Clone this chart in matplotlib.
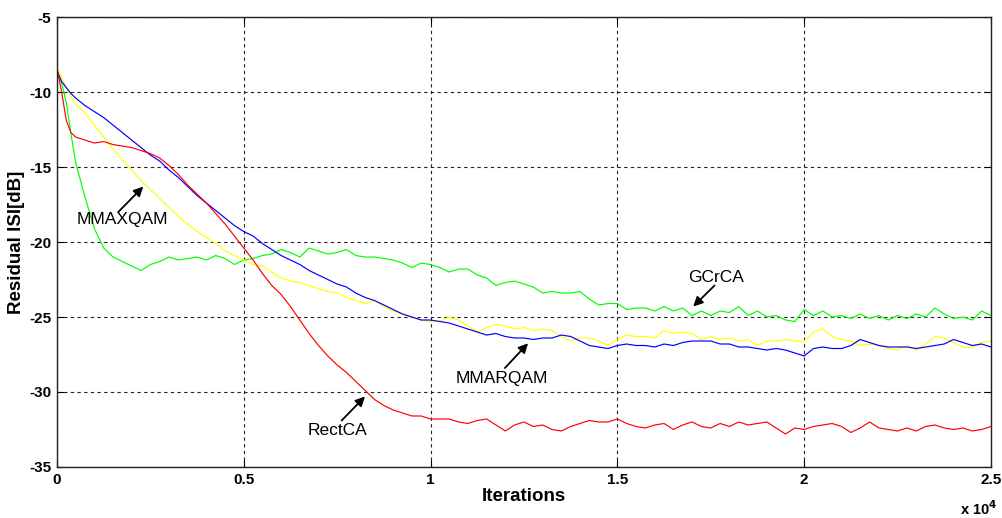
"""Residual ISI convergence of the four equalizers (MATLAB-style figure)."""

import numpy as np
import matplotlib
matplotlib.use("Agg")
import matplotlib.pyplot as plt

plt.rcParams["font.family"] = ["Liberation Sans", "DejaVu Sans"]
plt.rcParams["axes.unicode_minus"] = False

# iteration grid: 0, 125, 250, 375, then every 250 from 500 to 25000
ITER = [0, 125, 250, 375] + list(range(500, 25001, 250))

GCRCA = [
    -8.4, -9.4, -10.7, -12.8,
    -14.7, -17.0, -19.1, -20.4, -21.0, -21.3, -21.6, -21.9, -21.5, -21.3,
    -21.0, -21.2, -21.1, -21.0, -21.2, -20.9, -21.1, -21.5, -21.2, -21.1,
    -20.9, -20.8, -20.5, -20.7, -21.0, -20.4, -20.6, -20.8, -20.7, -20.5,
    -20.9, -21.0, -21.0, -21.1, -21.2, -21.4, -21.7, -21.4, -21.5, -21.7,
    -22.0, -21.8, -21.8, -22.2, -22.4, -22.9, -22.7, -22.6, -22.8, -23.0,
    -23.4, -23.3, -23.4, -23.4, -23.3, -23.8, -24.2, -24.1, -24.1, -24.5,
    -24.4, -24.4, -24.6, -24.3, -24.6, -24.4, -24.9, -24.6, -24.9, -24.6,
    -24.7, -24.3, -24.9, -24.6, -25.0, -24.9, -25.2, -25.3, -24.5, -24.9,
    -24.6, -25.0, -24.9, -25.1, -24.8, -25.1, -24.9, -25.2, -24.9, -25.1,
    -24.8, -25.0, -24.4, -24.8, -25.1, -25.0, -25.2, -24.6, -24.9,
]

MMAXQAM = [
    -8.4, -9.0, -9.7, -10.3,
    -10.8, -11.4, -12.2, -13.0, -13.8, -14.5, -15.2, -15.9, -16.5, -17.1,
    -17.7, -18.3, -18.8, -19.3, -19.7, -20.1, -20.6, -20.9, -21.2, -21.5,
    -21.6, -22.0, -22.4, -22.6, -22.7, -22.9, -23.1, -23.3, -23.4, -23.7,
    -23.9, -24.1, -23.9, -24.3, -24.6, -24.8, -25.0, -25.2, -25.3, -25.3,
    -25.0, -25.2, -25.6, -26.0, -25.7, -25.5, -25.6, -25.8, -25.7, -25.9,
    -25.8, -25.9, -26.3, -26.6, -26.4, -26.4, -26.6, -26.9, -26.5, -26.2,
    -26.3, -26.3, -26.4, -25.9, -26.1, -26.0, -26.1, -26.5, -26.3, -26.5,
    -26.4, -26.6, -26.5, -26.9, -26.6, -26.6, -26.5, -26.6, -26.6, -26.0,
    -25.8, -26.3, -26.5, -26.6, -26.9, -26.8, -26.9, -27.1, -27.2, -26.9,
    -27.2, -26.8, -26.3, -26.4, -26.7, -27.0, -27.0, -26.7, -26.6,
]

MMARQAM = [
    -8.6, -9.3, -9.7, -10.1,
    -10.4, -10.9, -11.3, -11.7, -12.2, -12.7, -13.2, -13.7, -14.2, -14.6,
    -15.2, -15.7, -16.3, -16.9, -17.4, -17.9, -18.4, -18.9, -19.3, -19.6,
    -20.1, -20.5, -20.9, -21.2, -21.5, -21.9, -22.2, -22.5, -22.8, -23.0,
    -23.4, -23.7, -23.9, -24.2, -24.5, -24.8, -25.0, -25.2, -25.2, -25.3,
    -25.4, -25.6, -25.8, -26.0, -26.2, -26.1, -26.3, -26.4, -26.4, -26.5,
    -26.4, -26.4, -26.2, -26.3, -26.6, -26.9, -27.0, -27.1, -26.9, -26.8,
    -26.9, -26.9, -27.0, -26.8, -26.9, -26.7, -26.6, -26.6, -26.6, -26.8,
    -26.8, -27.0, -27.0, -27.1, -27.2, -27.1, -27.2, -27.4, -27.6, -27.1,
    -27.0, -27.1, -27.1, -26.9, -26.5, -26.7, -26.9, -27.0, -27.0, -27.0,
    -27.1, -27.0, -26.9, -26.8, -26.5, -26.7, -26.9, -26.8, -27.0,
]

RECTCA = [
    -8.4, -10.0, -11.9, -12.7,
    -13.0, -13.2, -13.4, -13.3, -13.5, -13.6, -13.7, -13.9, -14.1, -14.4,
    -14.9, -15.5, -16.2, -16.8, -17.4, -18.1, -18.8, -19.6, -20.4, -21.2,
    -22.1, -22.9, -23.5, -24.3, -25.2, -26.1, -26.9, -27.6, -28.2, -28.7,
    -29.3, -29.9, -30.5, -30.9, -31.2, -31.4, -31.6, -31.6, -31.8, -31.8,
    -31.8, -32.0, -32.1, -31.9, -31.8, -32.2, -32.6, -32.2, -32.0, -32.3,
    -32.2, -32.5, -32.6, -32.3, -32.1, -31.9, -32.0, -32.0, -31.8, -32.1,
    -32.3, -32.4, -32.2, -32.1, -32.5, -32.2, -32.0, -32.3, -32.4, -32.1,
    -32.3, -32.0, -32.2, -32.1, -32.0, -32.4, -32.8, -32.4, -32.5, -32.3,
    -32.2, -32.1, -32.3, -32.7, -32.4, -32.0, -32.4, -32.5, -32.6, -32.4,
    -32.6, -32.3, -32.2, -32.4, -32.5, -32.4, -32.6, -32.5, -32.3,
]

XTICKS = [0, 5000, 10000, 15000, 20000, 25000]
XTICK_LABELS = ["0", "0.5", "1", "1.5", "2", "2.5"]
YTICKS = [-35, -30, -25, -20, -15, -10, -5]

# label text, text position, arrow tail, arrow tip
LABELS = [
    ("MMAXQAM", (1750, -18.5), (1640, -18.0), (2310, -16.3)),
    ("GCrCA", (17650, -22.35), (17600, -22.9), (17030, -24.3)),
    ("MMARQAM", (11900, -29.1), (11990, -28.4), (12610, -26.75)),
    ("RectCA", (7500, -32.6), (7620, -31.9), (8245, -30.3)),
]

fig = plt.figure(figsize=(10.03, 5.18), dpi=100)
ax = fig.add_axes([0.0568, 0.0985, 0.9312, 0.8685])

ax.plot(ITER, GCRCA, color="#00ff00", lw=0.85)
ax.plot(ITER, MMAXQAM, color="#ffff00", lw=0.85)
ax.plot(ITER, MMARQAM, color="#0000ff", lw=0.85)
ax.plot(ITER, RECTCA, color="#ff0000", lw=0.85)

ax.set_xlim(0, 25000)
ax.set_ylim(-35, -5)
ax.set_xticks(XTICKS)
ax.set_xticklabels(XTICK_LABELS)
ax.set_yticks(YTICKS)
ax.grid(True, color="#222222", linestyle=(0, (3, 3)), lw=0.8)
ax.tick_params(direction="in", top=True, right=True, length=5, width=0.8,
               labelsize=11, pad=4)
for lab in ax.get_xticklabels() + ax.get_yticklabels():
    lab.set_fontweight("bold")
for sp in ax.spines.values():
    sp.set_linewidth(1.0)
    sp.set_color("#222222")

ax.set_xlabel("Iterations", fontsize=13.5, fontweight="bold", labelpad=1)
ax.set_ylabel("Residual ISI[dB]", fontsize=13.5, fontweight="bold", labelpad=3)

for text, pos, tail, tip in LABELS:
    ax.text(pos[0], pos[1], text, fontsize=12.5, ha="center", va="center")
    ax.annotate("", xy=tip, xytext=tail,
                arrowprops=dict(arrowstyle="-|>", color="black", lw=1.3,
                                mutation_scale=14, shrinkA=0, shrinkB=0))

fig.text(0.957, 0.006, r"x 10$^{\mathbf{4}}$", fontsize=10.5, fontweight="bold")

fig.savefig("out.png", dpi=100)
